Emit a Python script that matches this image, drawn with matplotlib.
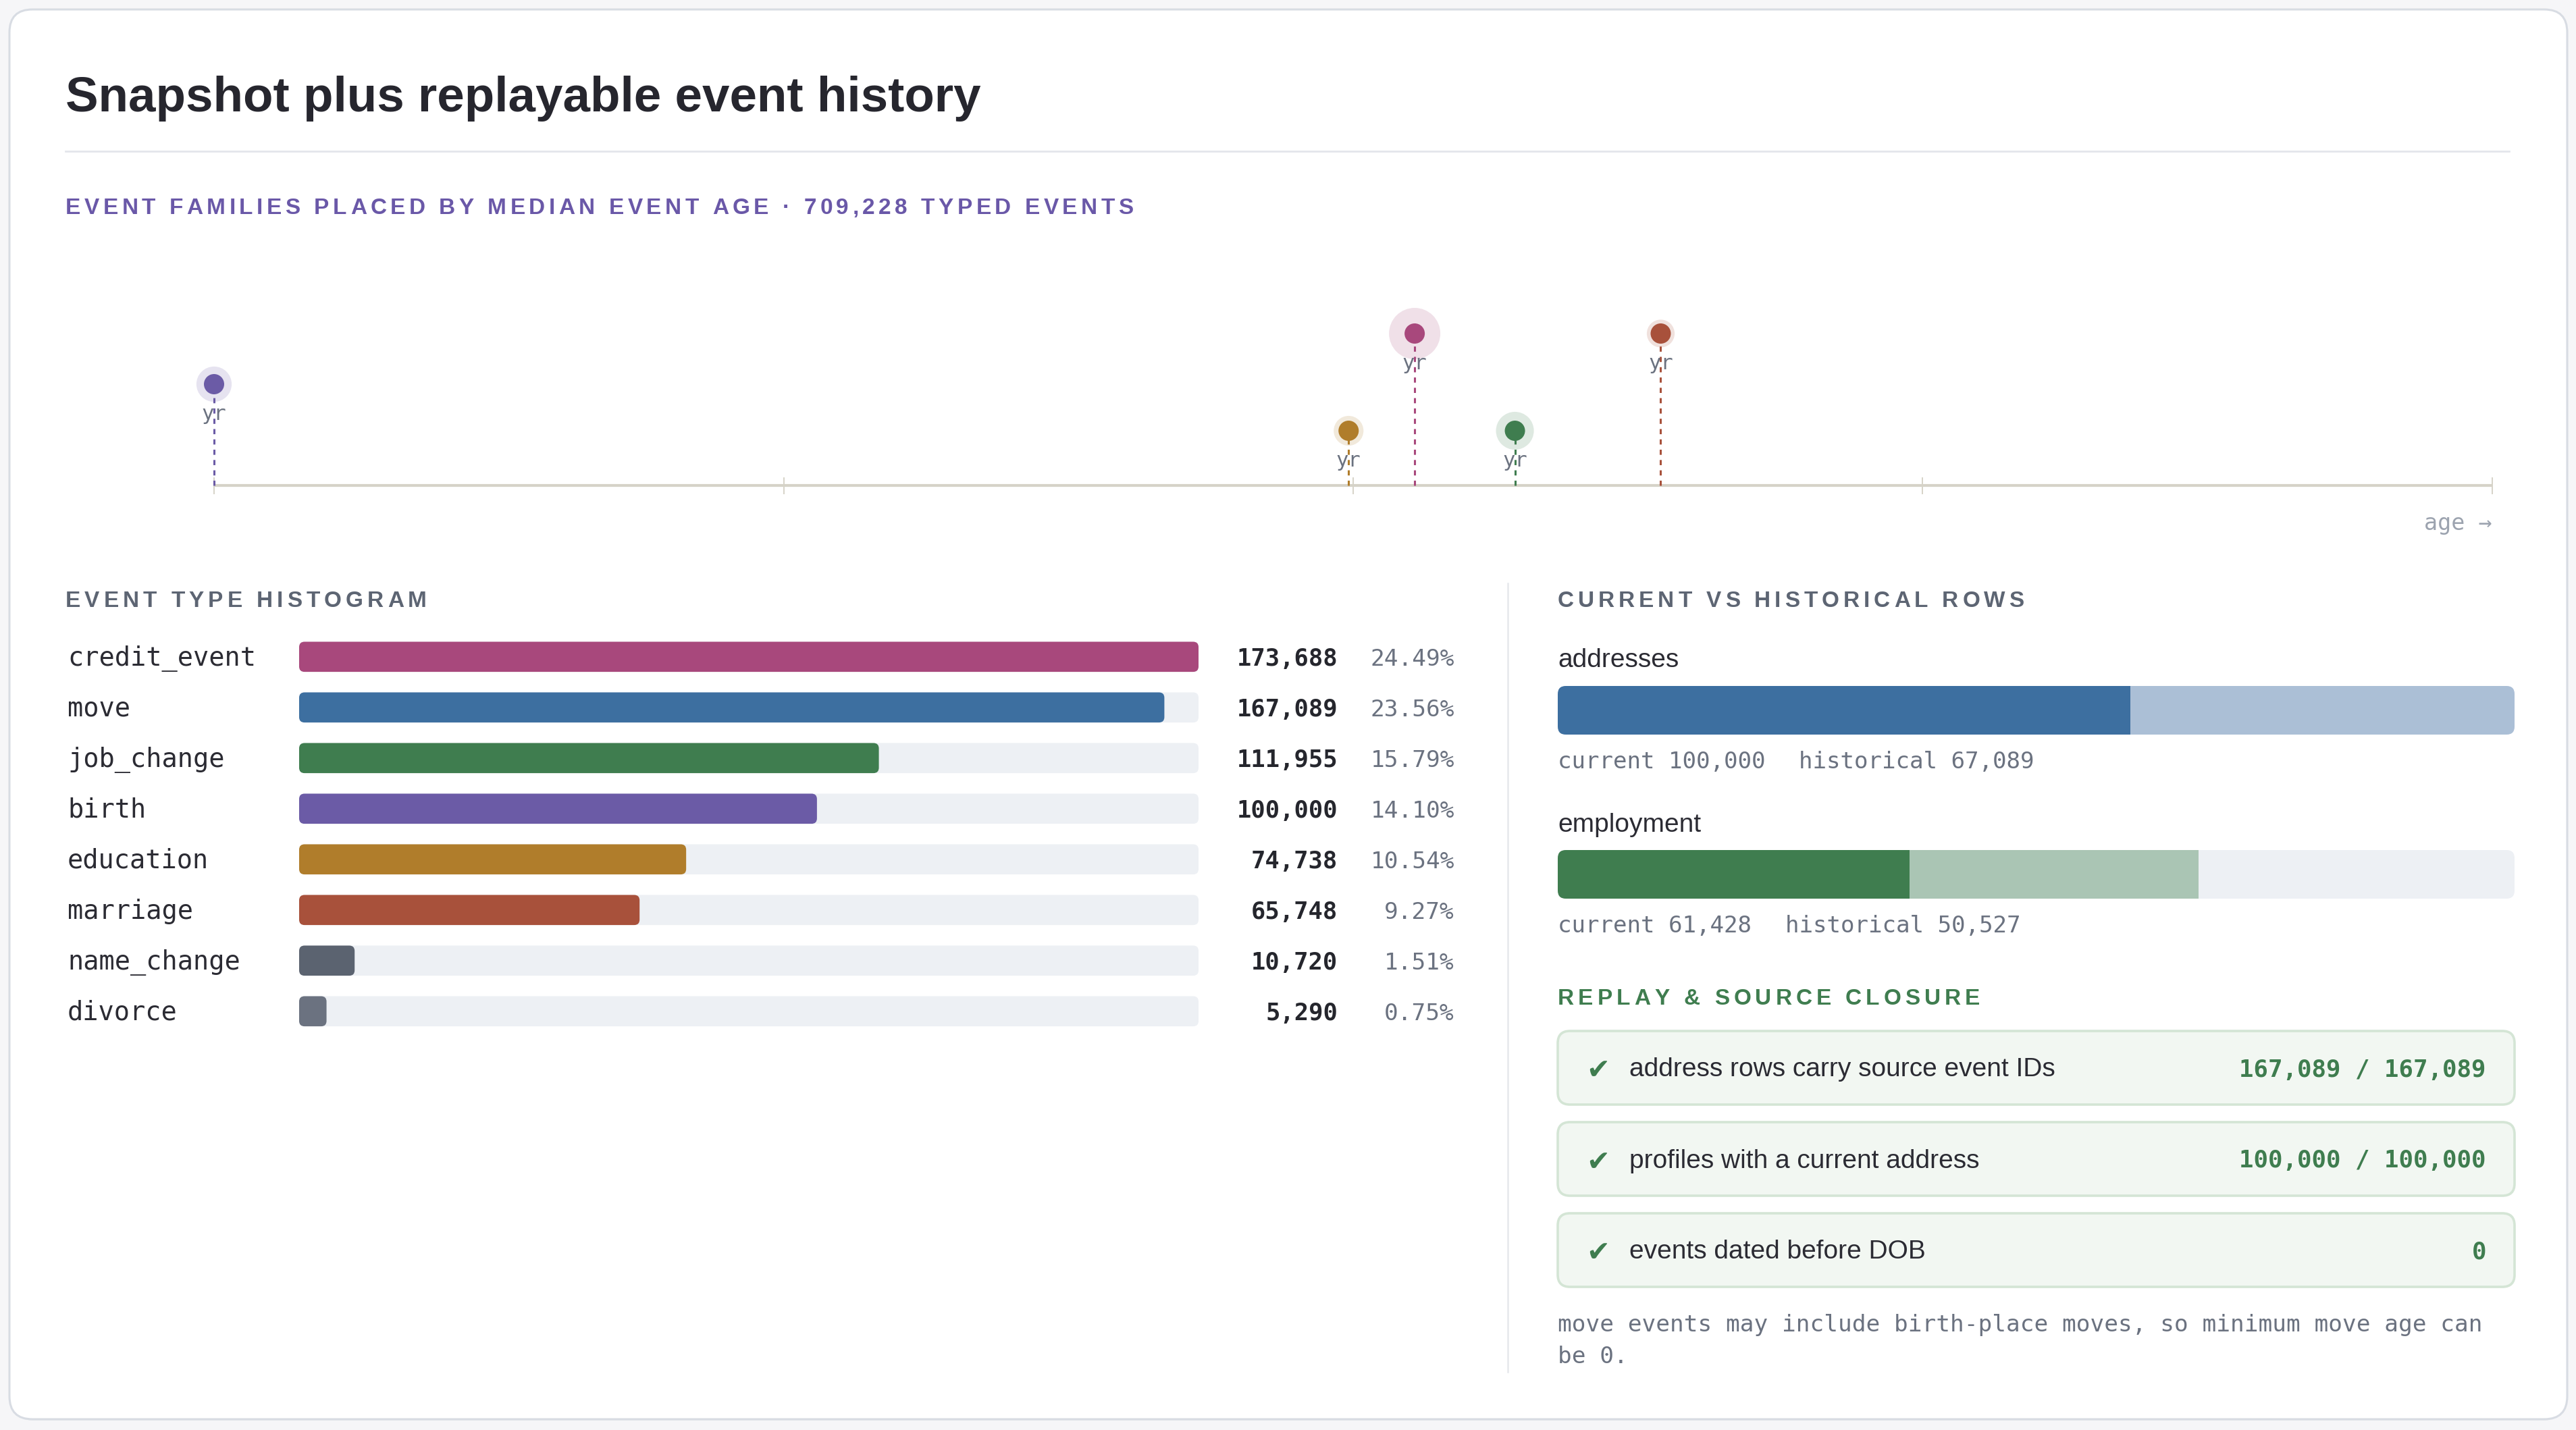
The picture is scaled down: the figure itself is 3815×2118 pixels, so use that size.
"""Snapshot plus replayable event history - dashboard card"""

import matplotlib
matplotlib.use("Agg")
import matplotlib.pyplot as plt
from matplotlib.patches import FancyBboxPatch
from matplotlib.font_manager import FontProperties, findfont
from matplotlib.ft2font import FT2Font

# ---------------- data ----------------
event_types = ["credit_event", "move", "job_change", "birth",
               "education", "marriage", "name_change", "divorce"]
event_counts = [173688, 167089, 111955, 100000, 74738, 65748, 10720, 5290]
event_colors = ["#a8487c", "#3d6fa0", "#3f7d4f", "#6b5ba6",
                "#b07d2b", "#a8513b", "#5b6370", "#6b7280"]

# median event age per family (age axis 0 .. 100)
timeline_types = ["birth", "education", "credit_event", "job_change", "marriage"]
timeline_age = [0, 49.8, 52.7, 57.1, 63.5]
timeline_lane = [1, 0, 2, 0, 2]

row_tables = ["addresses", "employment"]
row_current = [100000, 61428]
row_historical = [67089, 50527]
row_colors = [("#3d6fa0", "#abbfd6"), ("#3f7d4f", "#aac5b4")]

check_labels = ["address rows carry source event IDs",
                "profiles with a current address",
                "events dated before DOB"]
check_values = ["167,089 / 167,089", "100,000 / 100,000", "0"]

footnote = ["move events may include birth-place moves, so minimum move age can",
            "be 0."]

# ---------------- figure ----------------
W, H, DPI = 3816, 2118, 200
SANS = ["Liberation Sans", "DejaVu Sans"]
MONO = "DejaVu Sans Mono"
GREEN = "#3f7d4f"
GRAY = "#6b7280"
DARK = "#2b2b33"

fig = plt.figure(figsize=(W / DPI, H / DPI), dpi=DPI, facecolor="#f6f6f8")
bg = fig.add_axes([0, 0, 1, 1])
bg.set_xlim(0, W)
bg.set_ylim(H, 0)
bg.axis("off")


def px_axes(x0, y0, x1, y1):
    """axes placed by pixel box (top-left origin)"""
    ax = fig.add_axes([x0 / W, 1 - y1 / H, (x1 - x0) / W, (y1 - y0) / H])
    ax.axis("off")
    return ax


def round_bar(ax, x0, yc, w, h, color, r_px, z=2):
    """rounded bar in data coords, radius given in pixels"""
    pos = ax.get_position()
    xl, yl = ax.get_xlim(), ax.get_ylim()
    xpp = abs(xl[1] - xl[0]) / (pos.width * W)
    ypp = abs(yl[1] - yl[0]) / (pos.height * H)
    p = FancyBboxPatch((x0, yc - h / 2), w, h,
                       boxstyle=f"round,pad=0,rounding_size={r_px * xpp}",
                       mutation_aspect=ypp / xpp, fc=color, ec="none", zorder=z)
    ax.add_patch(p)
    return p


def spaced_text(x, y, s, size, color, spacing):
    """bold caps header with letter spacing (pixels)"""
    fp = FontProperties(family="Liberation Sans", weight="bold", size=size)
    font = FT2Font(findfont(fp))
    font.set_size(size, DPI)
    for ch in s:
        bg.text(x, y, ch, fontproperties=fp, color=color, ha="left", va="baseline")
        x += font.load_char(ord(ch)).linearHoriAdvance / 65536 + spacing


# card
bg.add_patch(FancyBboxPatch((16, 18), W - 32, H - 32, boxstyle="round,pad=0,rounding_size=34",
                            fc="#ebecef", ec="none", zorder=0))
bg.add_patch(FancyBboxPatch((14, 14), W - 28, H - 30, boxstyle="round,pad=0,rounding_size=34",
                            fc="white", ec="#d8dce3", lw=1.1, zorder=1))

# title
bg.text(97, 165, "Snapshot plus replayable event history", family=SANS, weight="bold",
        size=26.2, color="#26262e", va="baseline")
bg.plot([97, 3716], [224, 224], color="#e4e6eb", lw=1.0)
spaced_text(97, 317, "EVENT FAMILIES PLACED BY MEDIAN EVENT AGE \u00b7 709,228 TYPED EVENTS",
            12, "#6a58a8", 5.5)

# ---------------- timeline ----------------
lane_px = [81, 150, 225]
ax_t = px_axes(317, 420, 3691, 740)
ax_t.set_xlim(0, 100)
ax_t.set_ylim(-21, 299)
ax_t.plot([0, 100], [0, 0], color="#d6d3c8", lw=1.5, solid_capstyle="butt", zorder=1)
ax_t.vlines([0, 25, 50, 75, 100], -13, 12, color="#d6d3c8", lw=0.7, zorder=1, clip_on=False)

max_count = max(event_counts)
t_colors, t_heights, t_halo = [], [], []
for name, lane in zip(timeline_types, timeline_lane):
    k = event_types.index(name)
    t_colors.append(event_colors[k])
    t_heights.append(lane_px[lane])
    r = 10 + 28 * event_counts[k] / max_count
    t_halo.append((2 * r * 72 / DPI) ** 2)

ax_t.vlines(timeline_age, 0, t_heights, colors=t_colors, linestyles=(0, (2.5, 2.5)),
            lw=1.1, zorder=2, clip_on=False)
ax_t.scatter(timeline_age, t_heights, s=t_halo, c=t_colors, alpha=0.17, lw=0,
             zorder=3, clip_on=False)
ax_t.scatter(timeline_age, t_heights, s=(2 * 15 * 72 / DPI) ** 2, c=t_colors, lw=0,
             zorder=4, clip_on=False)
for a, h in zip(timeline_age, t_heights):
    ax_t.text(a, h - 53, "yr", ha="center", va="baseline", family=MONO, size=11,
              color=GRAY, zorder=5)
ax_t.annotate("age \u2192", xy=(1, 0), xycoords=("axes fraction", "data"),
              xytext=(0, -66), textcoords="offset pixels", ha="right", va="baseline",
              family=MONO, size=12, color="#9ca3af")

# ---------------- histogram ----------------
spaced_text(97, 899, "EVENT TYPE HISTOGRAM", 12, "#5d6573", 6)
n = len(event_types)
hx0, hx1, row0, step = 443, 1775, 972.8, 75
ax_h = px_axes(hx0, row0 - step / 2, hx1, row0 + step * (n - 0.5))
ax_h.set_xlim(0, max_count)
ax_h.set_ylim(n - 0.5, -0.5)
total = sum(event_counts)
bar_h = 44.6 / step
for i, (name, c, col) in enumerate(zip(event_types, event_counts, event_colors)):
    round_bar(ax_h, 0, i, max_count, bar_h, "#edf0f4", 8, z=1)
    round_bar(ax_h, 0, i, c, bar_h, col, 8, z=2)
    ax_h.annotate(name, xy=(0, i), xycoords=("axes fraction", "data"),
                  xytext=(100 - hx0, -13), textcoords="offset pixels",
                  ha="left", va="baseline", family=MONO, size=13.9, color=DARK)
    ax_h.annotate(f"{c:,}", xy=(1, i), xycoords=("axes fraction", "data"),
                  xytext=(206, -13), textcoords="offset pixels",
                  ha="right", va="baseline", family=MONO, weight="bold", size=12.8,
                  color="#25262d")
    ax_h.annotate(f"{100 * c / total:.2f}%", xy=(1, i), xycoords=("axes fraction", "data"),
                  xytext=(379, -13), textcoords="offset pixels",
                  ha="right", va="baseline", family=MONO, size=12.4, color=GRAY)

# divider
bg.plot([2233, 2233], [864, 2032], color="#e6e8ec", lw=0.9)

# ---------------- current vs historical ----------------
spaced_text(2307, 899, "CURRENT VS HISTORICAL ROWS", 12, "#5d6573", 5.9)
rstep = 243
ax_r = px_axes(2307, 1052 - rstep / 2, 3724, 1295 + rstep / 2)
tot_max = max(c + h for c, h in zip(row_current, row_historical))
ax_r.set_xlim(0, tot_max)
ax_r.set_ylim(1.5, -0.5)
rb_h = 72 / rstep
for i, (name, cur, hist, (c1, c2)) in enumerate(zip(row_tables, row_current,
                                                     row_historical, row_colors)):
    track = round_bar(ax_r, 0, i, tot_max, rb_h, "#edf0f4", 12, z=1)
    segs = ax_r.barh([i, i], [cur, hist], left=[0, cur], height=rb_h,
                     color=[c1, c2], zorder=2)
    for s in segs:
        s.set_clip_path(track)
    ax_r.annotate(name, xy=(0, i), xycoords=("axes fraction", "data"),
                  xytext=(0, 63.5), textcoords="offset pixels", ha="left",
                  va="baseline", family=SANS, size=14, color=DARK)
    t1 = ax_r.annotate(f"current {cur:,}", xy=(0, i), xycoords=("axes fraction", "data"),
                       xytext=(0, -86), textcoords="offset pixels", ha="left",
                       va="baseline", family=MONO, size=12.3, color=GRAY)
    ax_r.annotate(f"historical {hist:,}", xy=(1, 0), xycoords=t1,
                  xytext=(50, 0), textcoords="offset pixels", ha="left",
                  va="bottom", family=MONO, size=12.3, color=GRAY)

# ---------------- replay & source closure ----------------
spaced_text(2307, 1488, "REPLAY & SOURCE CLOSURE", 12, GREEN, 6)
box_x0, box_x1, box_top, box_h, box_step = 2307, 3724, 1527, 109, 135
for i, (lab, val) in enumerate(zip(check_labels, check_values)):
    y0 = box_top + i * box_step
    bg.add_patch(FancyBboxPatch((box_x0, y0), box_x1 - box_x0, box_h,
                                boxstyle="round,pad=0,rounding_size=18",
                                fc="#f2f7f2", ec="#d4e5d5", lw=1.3, zorder=2))
    yb = y0 + box_h / 2 + 13
    bg.text(2367, yb + 4, "\u2714", ha="center", va="baseline", family=["DejaVu Sans"],
            size=15, color=GREEN, zorder=3)
    bg.text(2413, yb, lab, ha="left", va="baseline", family=SANS, size=14,
            color=DARK, zorder=3)
    bg.text(3682, yb, val, ha="right", va="baseline", family=MONO, weight="bold",
            size=12.9, color=GREEN, zorder=3)

for j, line in enumerate(footnote):
    bg.text(2307, 1972 + 47 * j, line, ha="left", va="baseline", family=MONO,
            size=12.4, color=GRAY)

fig.savefig("out.png", dpi=DPI, facecolor=fig.get_facecolor())
